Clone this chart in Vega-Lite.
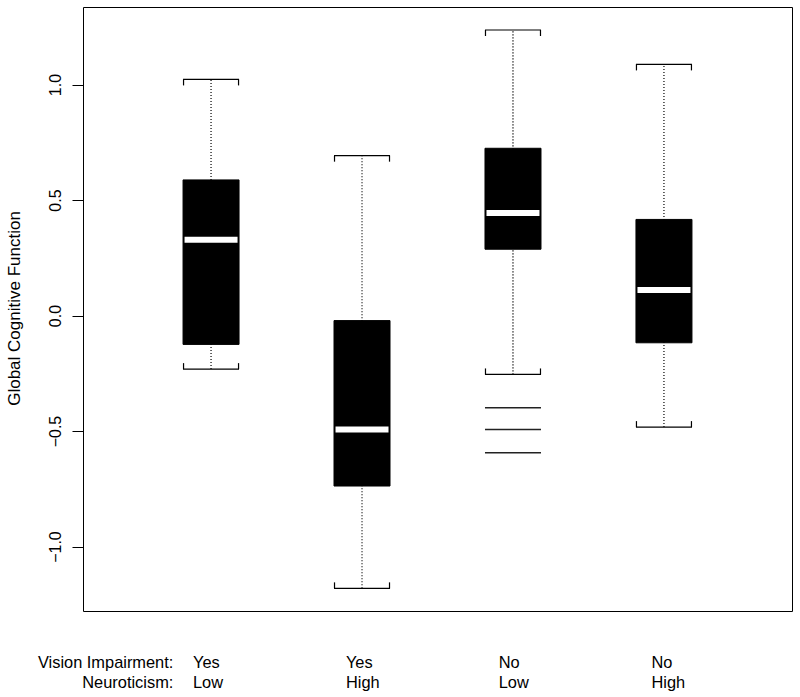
{
  "$schema": "https://vega.github.io/schema/vega-lite/v6.json",
  "width": 709,
  "height": 604,
  "autosize": {"type": "none"},
  "padding": {"left": 83, "top": 7, "right": 8, "bottom": 86},
  "background": "white",
  "config": {
    "view": {"stroke": "black", "strokeWidth": 1},
    "font": "Liberation Sans"
  },
  "datasets": {
    "boxes": [
      {"vision": "Yes", "neuroticism": "Low", "pos": 1, "lo": -0.232, "q1": -0.125, "median": 0.328, "q3": 0.587, "hi": 1.022},
      {"vision": "Yes", "neuroticism": "High", "pos": 2, "lo": -1.181, "q1": -0.738, "median": -0.493, "q3": -0.022, "hi": 0.692},
      {"vision": "No", "neuroticism": "Low", "pos": 3, "lo": -0.255, "q1": 0.287, "median": 0.444, "q3": 0.724, "hi": 1.236},
      {"vision": "No", "neuroticism": "High", "pos": 4, "lo": -0.483, "q1": -0.118, "median": 0.110, "q3": 0.416, "hi": 1.087}
    ],
    "outliers": [
      {"pos": 3, "value": -0.399},
      {"pos": 3, "value": -0.493},
      {"pos": 3, "value": -0.594}
    ]
  },
  "data": {"name": "boxes"},
  "encoding": {
    "x": {
      "field": "pos",
      "type": "quantitative",
      "scale": {"domain": [0.185, 4.815], "nice": false, "zero": false},
      "axis": {
        "title": null,
        "values": [0.747, 0.877, 1.89, 2.902, 3.914],
        "labelExpr": "datum.value < 0.8 ? ['Vision Impairment:', 'Neuroticism:'] : datum.value < 1.5 ? ['Yes', 'Low'] : datum.value < 2.5 ? ['Yes', 'High'] : datum.value < 3.5 ? ['No', 'Low'] : ['No', 'High']",
        "labelAlign": {"condition": {"test": "datum.value < 0.8", "value": "right"}, "value": "left"},
        "labelBaseline": "alphabetic",
        "labelLineHeight": 20,
        "labelPadding": 56,
        "labelFontSize": 16.4,
        "labelColor": "black",
        "labelOverlap": false,
        "labelFlush": false,
        "labelBound": false,
        "ticks": false,
        "tickSize": 0,
        "domain": false,
        "grid": false
      }
    }
  },
  "layer": [
    {
      "mark": {"type": "rule", "color": "black", "strokeWidth": 1.2, "strokeDash": [1.2, 1.8]},
      "encoding": {
        "y": {
          "field": "lo",
          "type": "quantitative",
          "scale": {"domain": [-1.279, 1.3355], "nice": false, "zero": false},
          "axis": {
            "title": "Global Cognitive Function",
            "values": [-1, -0.5, 0, 0.5, 1],
            "format": ".1f",
            "grid": false,
            "domain": false,
            "tickSize": 11,
            "tickColor": "black",
            "tickWidth": 1,
            "labelAngle": -90,
            "labelAlign": "center",
            "labelBaseline": "alphabetic",
            "labelPadding": 12,
            "labelFontSize": 16,
            "labelColor": "black",
            "labelOverlap": false,
            "labelFlush": false,
            "titleFontSize": 17,
            "titleFontWeight": "normal",
            "titleColor": "black",
            "titleAngle": 270,
            "titleAlign": "center",
            "titleBaseline": "alphabetic",
            "titleX": -64,
            "titleY": 301
          }
        },
        "y2": {"field": "hi"}
      }
    },
    {
      "mark": {"type": "bar", "width": 56, "color": "black", "stroke": "black", "strokeWidth": 1},
      "encoding": {
        "y": {"field": "q1", "type": "quantitative"},
        "y2": {"field": "q3"}
      }
    },
    {
      "mark": {"type": "tick", "orient": "horizontal", "size": 53, "thickness": 6, "color": "white", "opacity": 1},
      "encoding": {"y": {"field": "median", "type": "quantitative"}}
    },
    {
      "mark": {"type": "tick", "orient": "horizontal", "size": 56, "thickness": 1.2, "color": "black", "opacity": 1},
      "encoding": {"y": {"field": "hi", "type": "quantitative"}}
    },
    {
      "mark": {"type": "tick", "orient": "horizontal", "size": 56, "thickness": 1.2, "color": "black", "opacity": 1},
      "encoding": {"y": {"field": "lo", "type": "quantitative"}}
    },
    {
      "mark": {"type": "tick", "orient": "vertical", "size": 6, "thickness": 1.2, "color": "black", "opacity": 1, "xOffset": -27.5, "yOffset": 3},
      "encoding": {"y": {"field": "hi", "type": "quantitative"}}
    },
    {
      "mark": {"type": "tick", "orient": "vertical", "size": 6, "thickness": 1.2, "color": "black", "opacity": 1, "xOffset": 27.5, "yOffset": 3},
      "encoding": {"y": {"field": "hi", "type": "quantitative"}}
    },
    {
      "mark": {"type": "tick", "orient": "vertical", "size": 6, "thickness": 1.2, "color": "black", "opacity": 1, "xOffset": -27.5, "yOffset": -3},
      "encoding": {"y": {"field": "lo", "type": "quantitative"}}
    },
    {
      "mark": {"type": "tick", "orient": "vertical", "size": 6, "thickness": 1.2, "color": "black", "opacity": 1, "xOffset": 27.5, "yOffset": -3},
      "encoding": {"y": {"field": "lo", "type": "quantitative"}}
    },
    {
      "data": {"name": "outliers"},
      "mark": {"type": "tick", "orient": "horizontal", "size": 56, "thickness": 1.5, "color": "#222", "opacity": 1},
      "encoding": {
        "x": {"field": "pos", "type": "quantitative"},
        "y": {"field": "value", "type": "quantitative"}
      }
    }
  ]
}
